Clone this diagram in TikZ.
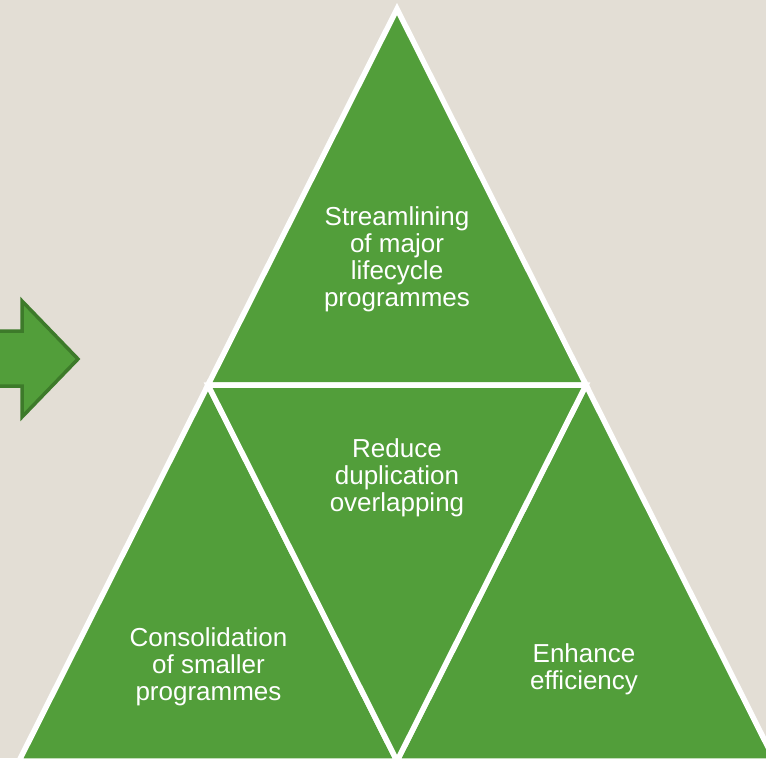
\documentclass[tikz,border=0pt]{standalone}
\usepackage{fontspec}
\setmainfont{Liberation Sans}
\definecolor{bgbeige}{HTML}{E3DED5}
\definecolor{leaf}{HTML}{529E3A}
\definecolor{leafdark}{HTML}{3D7A2A}
\begin{document}
\begin{tikzpicture}[x=1pt,y=-1pt,
  piece/.style={fill=leaf, draw=white, line width=5.5pt, line join=miter},
  label/.style={text=white, align=center, inner sep=0pt,
    font=\fontsize{26}{27}\selectfont},
  bigarrow/.style={fill=leaf, draw=leafdark, line width=3.5pt, line join=miter}]
  % canvas
  \useasboundingbox (0,0) rectangle (766,758);
  \clip (0,0) rectangle (766,758);
  \fill[bgbeige] (0,0) rectangle (766,758);

  % block arrow pointing right, shaft running off the left edge
  \draw[bigarrow] (-10,331) -- (22,331) -- (22,301) -- (78,359) -- (22,417)
    -- (22,386) -- (-10,386) -- cycle;

  % corner points of the large triangle and its edge midpoints
  \coordinate (apex) at (397,9);
  \coordinate (bl) at (19,761);
  \coordinate (br) at (775,761);
  \coordinate (ml) at (208,385);
  \coordinate (mr) at (586,385);
  \coordinate (mb) at (397,761);

  % four sub-triangles
  \draw[piece] (apex) -- (ml) -- (mr) -- cycle;
  \draw[piece] (ml) -- (bl) -- (mb) -- cycle;
  \draw[piece] (mr) -- (mb) -- (br) -- cycle;
  \draw[piece] (ml) -- (mr) -- (mb) -- cycle;

  % labels
  \node[label] (ttop) at (397,259.5) {Streamlining\\of major\\lifecycle\\programmes};
  \node[label] (tmid) at (397,478) {Reduce\\duplication\\overlapping};
  \node[label] (tleft) at (208.5,667) {Consolidation\\of smaller\\programmes};
  \node[label] (tright) at (584,669) {Enhance\\efficiency};
\end{tikzpicture}
\end{document}
